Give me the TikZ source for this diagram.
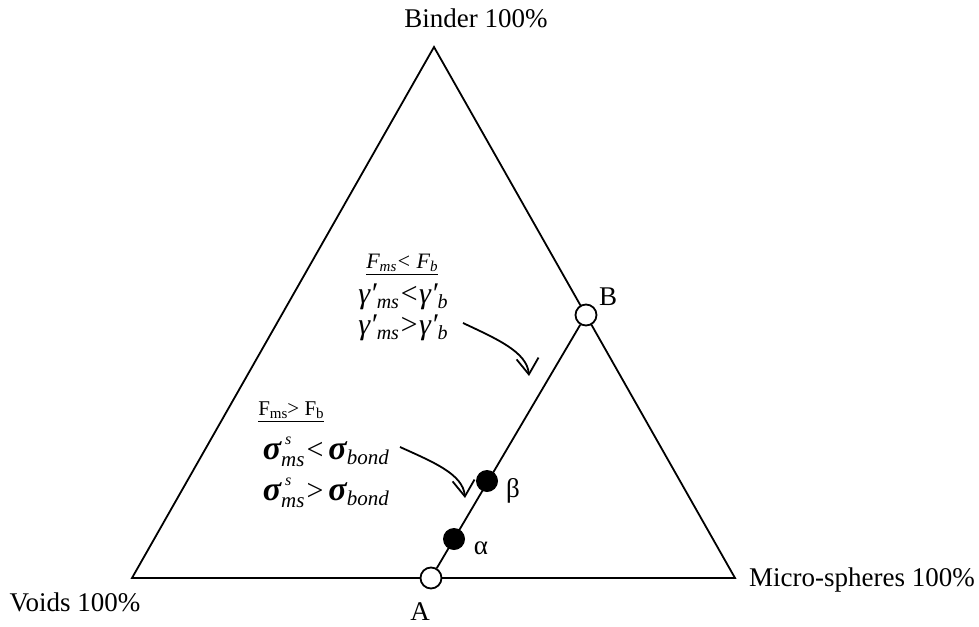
\documentclass[tikz,border=0pt]{standalone}
\usepackage{fontspec}
\setmainfont{Liberation Serif}
\usetikzlibrary{arrows.meta}
\newcommand{\lowsub}[2][9]{\raisebox{-0.35ex}{\fontsize{#1}{#1}\selectfont #2}}
\newcommand{\stacksub}[2]{\rlap{\raisebox{1.2ex}{\fontsize{8}{8}\selectfont\itshape\kern2pt #1}}\raisebox{-0.55ex}{\fontsize{10.5}{10.5}\selectfont\itshape #2}}
\begin{document}
\begin{tikzpicture}[x=0.5pt,y=-0.5pt, line width=0.9pt,
  opendot/.style={circle,draw,fill=white,minimum size=10.5pt,inner sep=0pt,line width=0.9pt},
  filldot/.style={circle,fill=black,minimum size=11pt,inner sep=0pt},
  cornerlbl/.style={font=\fontsize{13.5}{16}\selectfont, inner sep=0pt},
  ptlbl/.style={font=\fontsize{13.5}{15}\selectfont, inner sep=0pt},
  smalllbl/.style={font=\fontsize{10.5}{12}\selectfont, inner sep=0pt},
  gammalbl/.style={font=\fontsize{15}{17}\selectfont\itshape, inner sep=0pt},
  sigmalbl/.style={font=\fontsize{14}{16}\selectfont, inner sep=0pt},
  curvearrow/.style={-{Straight Barb[length=8pt,width=11pt]}, line width=0.9pt}]
\useasboundingbox (0,0) rectangle (979,626);

% triangle corners
\coordinate (top) at (434,47);
\coordinate (left) at (132,578);
\coordinate (right) at (735,578);
\draw (top) -- (left) -- (right) -- cycle;

% corner labels
\node[cornerlbl] (binder) at (476,18) {Binder 100\%};
\node[cornerlbl] (voids) at (75,602) {Voids 100\%};
\node[cornerlbl] (micro) at (862,580) {Micro-spheres 100\%};

% line A--B with points
\node[opendot] (A) at (431,578) {};
\node[opendot] (B) at (586,315) {};
\draw (A) -- (B);
\node[filldot] (alpha) at (454,539) {};
\node[filldot] (beta) at (487,481) {};

\node[ptlbl] (Alab) at (420,612) {A};
\node[ptlbl] (Blab) at (608,297) {B};
\node[ptlbl] (alab) at (481,548) {α};
\node[ptlbl] (blab) at (513,491) {β};

% upper annotation
\node[smalllbl,font=\fontsize{11}{12}\selectfont\itshape] (Fless) at (402,265)
  {\underline{F\lowsub[7.5]{ms}< F\lowsub[7.5]{b}}};
\node[gammalbl] (g1) at (403,297) {γ′\lowsub[10]{ms}<γ′\lowsub[10]{b}};
\node[gammalbl] (g2) at (403,328) {γ′\lowsub[10]{ms}>γ′\lowsub[10]{b}};
\coordinate (a1s) at (463,323);
\coordinate (a1e) at (529,376);
\draw[curvearrow] (a1s) .. controls (497,339) and (527,352) .. (a1e);

% lower annotation
\node[smalllbl] (Fgreat) at (291,412)
  {\underline{F\lowsub[7.5]{ms}> F\lowsub[7.5]{b}}};
\node[sigmalbl,anchor=west] (s1) at (262,452)
  {{\fontsize{17}{17}\selectfont\bfseries\itshape σ}\stacksub{s}{ms}\kern1pt{\fontsize{15}{15}\selectfont<}\kern2.5pt{\fontsize{17}{17}\selectfont\bfseries\itshape σ}\lowsub[10.5]{\itshape bond}};
\node[sigmalbl,anchor=west] (s2) at (262,493)
  {{\fontsize{17}{17}\selectfont\bfseries\itshape σ}\stacksub{s}{ms}\kern1pt{\fontsize{15}{15}\selectfont>}\kern2.5pt{\fontsize{17}{17}\selectfont\bfseries\itshape σ}\lowsub[10.5]{\itshape bond}};
\coordinate (a2s) at (400,447);
\coordinate (a2e) at (465,498);
\draw[curvearrow] (a2s) .. controls (433,462) and (463,474) .. (a2e);
\end{tikzpicture}
\end{document}
